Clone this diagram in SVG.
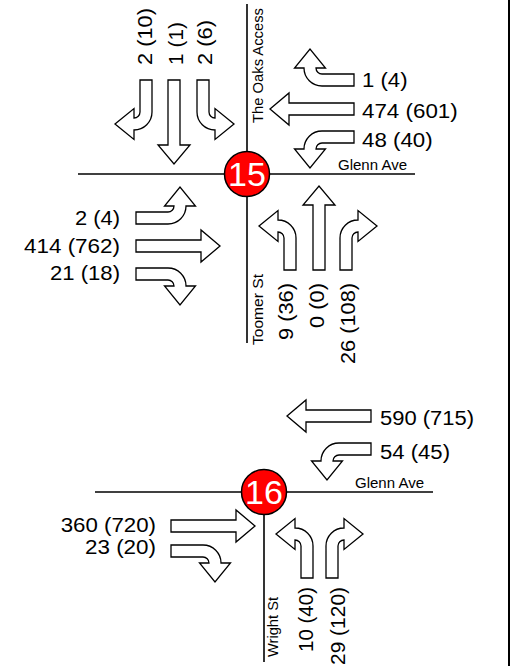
<svg xmlns="http://www.w3.org/2000/svg" xmlns:xlink="http://www.w3.org/1999/xlink" width="514" height="666" viewBox="0 0 514 666">
<style>
.road{stroke:#000;stroke-width:1.6;fill:none}
.arr{fill:#fff;stroke:#000;stroke-width:1.3;stroke-linejoin:miter}
.num{font-family:"Liberation Sans",Arial,sans-serif;font-size:20.5px;fill:#000}
.st{font-family:"Liberation Sans",Arial,sans-serif;font-size:15.5px;fill:#000}
.end{text-anchor:end}
.node circle{fill:#ff0000;stroke:#000;stroke-width:1.5}
.node text{font-family:"Liberation Sans",Arial,sans-serif;font-size:34px;fill:#fff;text-anchor:middle}
</style>
<defs>
<path id="rt" class="arr" d="M0,0 L0,-32 A18,18 0 0 1 18,-50 L18,-59.5 L37,-44 L18,-28.5 L18,-38 A6,6 0 0 0 12,-32 L12,0 Z"/>
<path id="th" class="arr" d="M0,0 L0,-65 L-10,-65 L6,-84 L22,-65 L12,-65 L12,0 Z"/>
</defs>
<rect x="0" y="0" width="514" height="666" fill="#fff"/>
<g id="connectors">
<line class="road" x1="78" y1="174" x2="415" y2="174"/>
<line class="road" x1="247" y1="4" x2="247" y2="343"/>
<line class="road" x1="95" y1="492" x2="433" y2="492"/>
<line class="road" x1="264" y1="492" x2="264" y2="662"/>
<line x1="509" y1="0" x2="509" y2="666" stroke="#000" stroke-width="2"/>
</g>
<g id="street-labels">
<text class="st" x="338" y="170" textLength="69" lengthAdjust="spacingAndGlyphs">Glenn Ave</text>
<text class="st" transform="translate(262.5,123) rotate(-90)" textLength="115" lengthAdjust="spacingAndGlyphs">The Oaks Access</text>
<text class="st" transform="translate(263,345) rotate(-90)" textLength="71" lengthAdjust="spacingAndGlyphs">Toomer St</text>
<text class="st" x="355" y="488" textLength="69" lengthAdjust="spacingAndGlyphs">Glenn Ave</text>
<text class="st" transform="translate(277.5,657) rotate(-90)" textLength="60" lengthAdjust="spacingAndGlyphs">Wright St</text>
</g>
<g id="arrows-15">
<use xlink:href="#rt" href="#rt" transform="translate(152,80) rotate(180)"/>
<use xlink:href="#th" href="#th" transform="translate(180,80) rotate(180)"/>
<use xlink:href="#rt" href="#rt" transform="translate(197,80) scale(1,-1)"/>
<use xlink:href="#rt" href="#rt" transform="translate(296,270) scale(-1,1)"/>
<use xlink:href="#th" href="#th" transform="translate(313,270)"/>
<use xlink:href="#rt" href="#rt" transform="translate(340,270)"/>
<use xlink:href="#rt" href="#rt" transform="translate(136,224) rotate(90) scale(-1,1)"/>
<use xlink:href="#th" href="#th" transform="translate(136,240) rotate(90)"/>
<use xlink:href="#rt" href="#rt" transform="translate(136,268) rotate(90)"/>
<use xlink:href="#rt" href="#rt" transform="translate(354,86) rotate(-90)"/>
<use xlink:href="#th" href="#th" transform="translate(354,115) rotate(-90)"/>
<use xlink:href="#rt" href="#rt" transform="translate(354,131) rotate(-90) scale(-1,1)"/>
</g>
<g id="arrows-16">
<use xlink:href="#th" href="#th" transform="translate(371,422) rotate(-90)"/>
<use xlink:href="#rt" href="#rt" transform="translate(371,443) rotate(-90) scale(-1,1)"/>
<use xlink:href="#th" href="#th" transform="translate(171,520) rotate(90)"/>
<use xlink:href="#rt" href="#rt" transform="translate(171,545) rotate(90)"/>
<use xlink:href="#rt" href="#rt" transform="translate(313,578) scale(-1,1)"/>
<use xlink:href="#rt" href="#rt" transform="translate(326,578)"/>
</g>
<g id="volumes-15">
<text class="num" transform="translate(152,65) rotate(-90)" textLength="57" lengthAdjust="spacingAndGlyphs">2 (10)</text>
<text class="num" transform="translate(183,65) rotate(-90)" textLength="43" lengthAdjust="spacingAndGlyphs">1 (1)</text>
<text class="num" transform="translate(212,65) rotate(-90)" textLength="45" lengthAdjust="spacingAndGlyphs">2 (6)</text>
<text class="num" x="362" y="87" textLength="45.5" lengthAdjust="spacingAndGlyphs">1 (4)</text>
<text class="num" x="362" y="117.5" textLength="95.7" lengthAdjust="spacingAndGlyphs">474 (601)</text>
<text class="num" x="362" y="146.5" textLength="70.7" lengthAdjust="spacingAndGlyphs">48 (40)</text>
<text class="num end" x="120" y="225" textLength="45" lengthAdjust="spacingAndGlyphs">2 (4)</text>
<text class="num end" x="120" y="252.5" textLength="96" lengthAdjust="spacingAndGlyphs">414 (762)</text>
<text class="num end" x="120" y="280" textLength="70" lengthAdjust="spacingAndGlyphs">21 (18)</text>
<text class="num end" transform="translate(293,283) rotate(-90)" textLength="57" lengthAdjust="spacingAndGlyphs">9 (36)</text>
<text class="num end" transform="translate(323.5,283) rotate(-90)" textLength="45" lengthAdjust="spacingAndGlyphs">0 (0)</text>
<text class="num end" transform="translate(355,283) rotate(-90)" textLength="81" lengthAdjust="spacingAndGlyphs">26 (108)</text>
</g>
<g id="volumes-16">
<text class="num" x="380" y="425" textLength="94" lengthAdjust="spacingAndGlyphs">590 (715)</text>
<text class="num" x="380" y="459" textLength="70" lengthAdjust="spacingAndGlyphs">54 (45)</text>
<text class="num end" x="156" y="531.5" textLength="95.3" lengthAdjust="spacingAndGlyphs">360 (720)</text>
<text class="num end" x="156" y="554" textLength="71" lengthAdjust="spacingAndGlyphs">23 (20)</text>
<text class="num end" transform="translate(313,587) rotate(-90)" textLength="65" lengthAdjust="spacingAndGlyphs">10 (40)</text>
<text class="num end" transform="translate(344.5,587) rotate(-90)" textLength="78" lengthAdjust="spacingAndGlyphs">29 (120)</text>
</g>
<g id="int15" class="node">
<circle cx="247" cy="174" r="22.5"/>
<text x="247" y="186.2">15</text>
</g>
<g id="int16" class="node">
<circle cx="264" cy="492" r="22.5"/>
<text x="264" y="504.2">16</text>
</g>
</svg>
